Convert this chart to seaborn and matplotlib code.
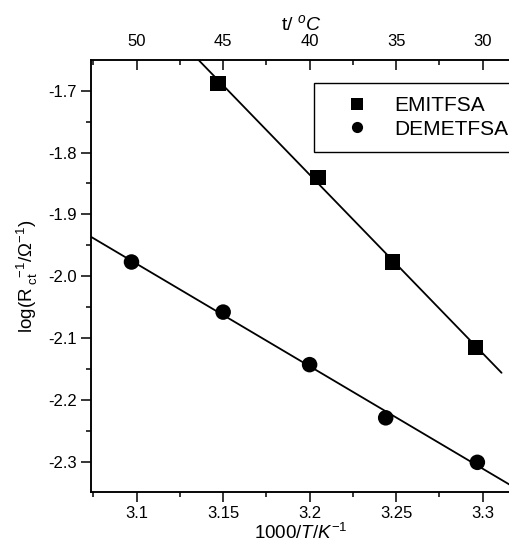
import numpy as np
import pandas as pd
import seaborn as sns
import matplotlib.pyplot as plt
from matplotlib.ticker import MultipleLocator

# data
inv_temp_emi = [3.147, 3.205, 3.248, 3.296]
log_rct_emi = [-1.688, -1.840, -1.977, -2.115]
inv_temp_dem = [3.097, 3.150, 3.200, 3.244, 3.297]
log_rct_dem = [-1.977, -2.058, -2.143, -2.229, -2.301]
fit_span_emi = [3.12, 3.311]
fit_span_dem = [3.07, 3.32]

x_ticks = [3.1, 3.15, 3.2, 3.25, 3.3]
x_ticklabels = ['3.1', '3.15', '3.2', '3.25', '3.3']
top_ticklabels = ['50', '45', '40', '35', '30']
y_ticks = [-1.7, -1.8, -1.9, -2.0, -2.1, -2.2, -2.3]
y_ticklabels = ['-1.7', '-1.8', '-1.9', '-2.0', '-2.1', '-2.2', '-2.3']
liquids = ['EMITFSA', 'DEMETFSA']

sns.set_style('ticks', {'axes.edgecolor': 'black', 'xtick.color': 'black',
                        'ytick.color': 'black', 'text.color': 'black',
                        'axes.labelcolor': 'black'})
plt.rcParams['font.family'] = ['Liberation Sans', 'DejaVu Sans']
plt.rcParams['mathtext.fontset'] = 'custom'
plt.rcParams['mathtext.rm'] = 'Liberation Sans'
plt.rcParams['mathtext.it'] = 'Liberation Sans:italic'
plt.rcParams['mathtext.bf'] = 'Liberation Sans:bold'
plt.rcParams['axes.unicode_minus'] = False

df = pd.concat([
    pd.DataFrame({'x': inv_temp_emi, 'y': log_rct_emi, 'liquid': liquids[0]}),
    pd.DataFrame({'x': inv_temp_dem, 'y': log_rct_dem, 'liquid': liquids[1]}),
])

fig = plt.figure(figsize=(5.1, 5.48), dpi=100)
ax = fig.add_axes([0.1778, 0.1016, 0.826, 0.7889])

# linear fits
for xs, ys, span in [(inv_temp_emi, log_rct_emi, fit_span_emi),
                     (inv_temp_dem, log_rct_dem, fit_span_dem)]:
    coef = np.polyfit(xs, ys, 1)
    span = np.array(span)
    sns.lineplot(x=span, y=np.polyval(coef, span), color='black', lw=1.3,
                 ax=ax, legend=False)

sns.scatterplot(data=df, x='x', y='y', style='liquid', style_order=liquids,
                markers={'EMITFSA': 's', 'DEMETFSA': 'o'}, color='black',
                s=125, linewidth=0, ax=ax, zorder=3)

ax.set_xlim(3.0734, 3.317)
ax.set_ylim(-2.3495, -1.6503)

ax.set_xticks(x_ticks)
ax.set_xticklabels(x_ticklabels)
ax.set_yticks(y_ticks)
ax.set_yticklabels(y_ticklabels)
ax.xaxis.set_minor_locator(MultipleLocator(0.025))
ax.yaxis.set_minor_locator(MultipleLocator(0.05))
ax.tick_params(which='major', direction='out', length=7, width=1.1,
               labelsize=12, pad=3)
ax.tick_params(which='minor', direction='out', length=3.8, width=1.1)
for s in ax.spines.values():
    s.set_linewidth(1.1)

ax.set_xlabel('1000/$T/K^{-1}$', fontsize=13.5, labelpad=1)
ax.set_ylabel(r'log(R$_{\ \mathrm{ct}}^{\ \ \ \mathrm{-1}}$/$\mathrm{\Omega}^{\mathrm{-1}}$)',
              fontsize=13.5, labelpad=6)

# legend rebuilt with a square frame
old = ax.get_legend()
handles = old.legend_handles
labels = [t.get_text() for t in old.get_texts()]
old.remove()
leg = ax.legend(handles, labels, loc='upper left', bbox_to_anchor=(0.530, 0.947),
                fontsize=15, markerscale=0.72, frameon=True, fancybox=False,
                edgecolor='black', framealpha=1, borderpad=0.65,
                labelspacing=0.2, handlelength=2.8, handletextpad=0.4,
                borderaxespad=0)
leg.get_frame().set_linewidth(1.0)

# top temperature axis
ax2 = ax.twiny()
ax2.set_xlim(ax.get_xlim())
ax2.set_xticks(x_ticks)
ax2.set_xticklabels(top_ticklabels)
ax2.xaxis.set_minor_locator(MultipleLocator(0.025))
ax2.tick_params(axis='x', which='major', direction='in', length=7, width=1.1,
                labelsize=12, pad=8)
ax2.tick_params(axis='x', which='minor', direction='in', length=3.8, width=1.1)
ax2.set_xlabel('t/ $^{o}C$', fontsize=14, labelpad=3)
for s in ax2.spines.values():
    s.set_linewidth(1.1)

fig.savefig('out.png', dpi=100)
